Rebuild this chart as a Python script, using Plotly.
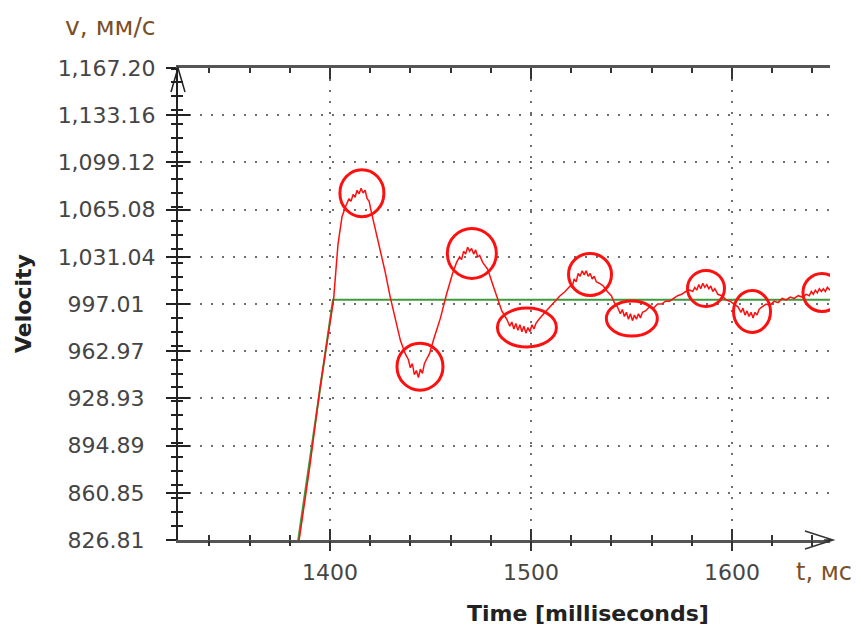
import plotly.graph_objects as go

# ---------------- data ----------------
red_t = [1384.5, 1390, 1395, 1401.8, 1404, 1406, 1408, 1409.5, 1410.5, 1411.5, 1412.5, 1413.5,
         1414.5, 1415.5, 1416.5, 1417.5, 1418.5, 1419.5, 1420.5, 1422.5, 1425, 1427.5, 1430,
         1432.5, 1435, 1437.5, 1439, 1440, 1441, 1442, 1443, 1444, 1445, 1446, 1447, 1448,
         1449.5, 1451.5, 1455, 1458, 1461, 1463, 1464.5, 1465.5, 1466.5, 1467.5, 1468.5,
         1469.5, 1470.5, 1471.5, 1472.5, 1473.5, 1474.5, 1476, 1478.5, 1481, 1483, 1485.5,
         1488, 1489.5, 1490.5, 1491.5, 1492.5, 1493.5, 1494.5, 1495.5, 1496.5, 1497.5, 1498.5,
         1499.5, 1500.5, 1501.5, 1502.5, 1504, 1507, 1509.5, 1512, 1514.5, 1517, 1519.5,
         1520.5, 1521.5, 1522.5, 1523.5, 1524.5, 1525.5, 1526.5, 1527.5, 1528.5, 1529.5,
         1530.5, 1531.5, 1532.5, 1534, 1536, 1538, 1540, 1541.5, 1543, 1544.5, 1545.5, 1546.5,
         1547.5, 1548.5, 1549.5, 1550.5, 1551.5, 1552.5, 1553.5, 1554.5, 1555.5, 1557, 1559,
         1561, 1563, 1565, 1567, 1569, 1571, 1573, 1575, 1577, 1579, 1580.5, 1581.5, 1582.5,
         1583.5, 1584.5, 1585.5, 1586.5, 1587.5, 1588.5, 1589.5, 1590.5, 1591.5, 1593, 1595,
         1597, 1599, 1601, 1603, 1604.5, 1605.5, 1606.5, 1607.5, 1608.5, 1609.5, 1610.5,
         1611.5, 1612.5, 1613.5, 1615, 1617, 1619, 1621, 1623, 1625, 1627, 1629, 1631, 1633,
         1635, 1637, 1638.5, 1639.5, 1640.5, 1641.5, 1642.5, 1643.5, 1644.5, 1645.5, 1646.5,
         1647.5, 1648.8]
red_v = [825, 880, 936, 1000, 1040, 1060, 1068, 1073, 1071, 1076, 1074, 1079,
         1076.5, 1080.5, 1077, 1079, 1073, 1071, 1064, 1052, 1037, 1020, 1002,
         987, 971, 961, 957, 951, 954, 946, 949, 944, 950, 947, 954, 957,
         961, 971, 987, 1004, 1019, 1027, 1031, 1029, 1035, 1033, 1038,
         1035, 1037, 1033, 1036, 1031, 1032, 1027, 1022, 1011, 1002, 992,
         986, 981, 984, 979, 983, 978, 982, 977, 981, 976, 980,
         977, 982, 979, 983, 986, 991, 995, 999, 1003, 1006, 1010,
         1009, 1015, 1013, 1019, 1017, 1021, 1018, 1021, 1017, 1019,
         1015, 1017, 1013, 1012, 1010, 1006, 1003, 998, 995, 990, 993, 988,
         991, 986, 990, 985, 989, 986, 990, 987, 991, 992, 995,
         994, 997, 997, 999, 999, 1001, 1003, 1004, 1006, 1007, 1006, 1009, 1007,
         1011, 1008, 1012, 1009, 1011, 1008, 1010, 1006, 1008, 1004, 1003,
         1000, 999, 997, 995, 991, 994, 989, 992, 988, 991, 987,
         991, 989, 993, 995, 997, 996, 999, 998, 1001, 1000, 1002, 1001, 1003,
         1002, 1004, 1003, 1006, 1004, 1007, 1005, 1008, 1006, 1008, 1006,
         1009, 1007]

green_t = [1384.0, 1401.5, 1648.8]
green_v = [824.8, 1000.0, 1000.0]

# highlighted oscillation extrema (circled in red)
mark_t = [1415.9, 1444.8, 1470.6, 1498.0, 1529.4, 1550.2, 1587.1, 1610.0, 1644.8]
mark_v = [1076.9, 951.8, 1033.5, 980.0, 1018.3, 986.5, 1008.2, 991.6, 1005.3]

y_ticks = [826.81, 860.85, 894.89, 928.93, 962.97, 997.01, 1031.04, 1065.08, 1099.12, 1133.16, 1167.20]
x_ticks = [1400, 1500, 1600]
x_range = [1324.4, 1648.8]

# ---------------- styles ----------------
mark_w = [44, 46, 49, 59, 43, 51, 37, 37, 38]
mark_h = [47, 47, 50, 39, 42, 35, 36, 42, 38]

W, H = 856, 628
L, R, T, B = 178, 26, 68, 88
PW, PH = W - L - R, H - T - B
FONT = "DejaVu Sans"


def px(xp):
    return (xp - L) / PW


def py(yp):
    return (H - B - yp) / PH


def ylab(v):
    s = f"{v:,.2f}"
    return s if "," in s else s + "\u2002"


fig = go.Figure()
fig.add_trace(go.Scatter(x=green_t, y=green_v, mode="lines",
                         line=dict(color="#3c9c3c", width=2), hoverinfo="skip"))
fig.add_trace(go.Scatter(x=red_t, y=red_v, mode="lines",
                         line=dict(color="#ff1010", width=1.5), hoverinfo="skip"))
# carriers for the overlay axes (crossing ticks)
fig.add_trace(go.Scatter(x=[], y=[], xaxis="x2", yaxis="y", showlegend=False))
fig.add_trace(go.Scatter(x=[], y=[], xaxis="x", yaxis="y2", showlegend=False))

grid = dict(showgrid=True, gridcolor="#6e6e6e", gridwidth=2, griddash="2px,9px")
tickfont = dict(family=FONT, size=22, color="#454545")

fig.update_layout(
    width=W, height=H, margin=dict(l=L, r=R, t=T, b=B),
    plot_bgcolor="white", paper_bgcolor="white", showlegend=False,
    xaxis=dict(range=x_range, tickmode="array", tickvals=x_ticks,
               ticktext=[str(v) for v in x_ticks],
               ticks="inside", ticklen=11, tickwidth=2, tickcolor="#333",
               showline=True, linecolor="#555", linewidth=2.5, mirror="ticks",
               zeroline=False, tickfont=tickfont, ticklabelstandoff=11,
               minor=dict(tick0=1300, dtick=20, ticks="inside", ticklen=5,
                          tickwidth=2, tickcolor="#333", showgrid=False),
               **grid),
    xaxis2=dict(range=x_range, overlaying="x", anchor="y", side="bottom",
                tickmode="array", tickvals=x_ticks, ticks="outside", ticklen=10,
                tickwidth=2, tickcolor="#333", showticklabels=False,
                showgrid=False, showline=False, zeroline=False,
                minor=dict(tick0=1300, dtick=20, ticks="outside", ticklen=5,
                           tickwidth=2, tickcolor="#333", showgrid=False)),
    yaxis=dict(range=[y_ticks[0], y_ticks[-1]], tickmode="array", tickvals=y_ticks,
               ticktext=[ylab(v) for v in y_ticks],
               ticks="outside", ticklen=10, tickwidth=2, tickcolor="#222",
               showline=True, linecolor="#222", linewidth=2, mirror=False,
               zeroline=False, tickfont=tickfont, ticklabelstandoff=6,
               minor=dict(tick0=y_ticks[0], dtick=10, ticks="outside", ticklen=5,
                          tickwidth=2, tickcolor="#222", showgrid=False),
               **grid),
    yaxis2=dict(range=[y_ticks[0], y_ticks[-1]], overlaying="y", anchor="x", side="left",
                tickmode="array", tickvals=y_ticks, ticks="inside", ticklen=12,
                tickwidth=2, tickcolor="#222", showticklabels=False,
                showgrid=False, showline=False, zeroline=False,
                minor=dict(tick0=y_ticks[0], dtick=10, ticks="inside", ticklen=5,
                           tickwidth=2, tickcolor="#222", showgrid=False)),
)

shapes = []
for t, v, w, h in zip(mark_t, mark_v, mark_w, mark_h):
    shapes.append(dict(type="circle", xref="x", yref="y",
                       xsizemode="pixel", ysizemode="pixel",
                       xanchor=t, yanchor=v, x0=-w / 2, x1=w / 2, y0=-h / 2, y1=h / 2,
                       line=dict(color="#ff1010", width=3)))
# axis arrowheads
shapes.append(dict(type="path", xref="paper", yref="paper",
                   xsizemode="pixel", ysizemode="pixel", xanchor=0, yanchor=1,
                   path="M -7,-24 L 0,0 L 7,-24", line=dict(color="#222", width=1.5)))
shapes.append(dict(type="path", xref="paper", yref="paper",
                   xsizemode="pixel", ysizemode="pixel", xanchor=1, yanchor=0,
                   path="M -25,9 L 3,0 L -25,-9 M -6,0 L 3,0", line=dict(color="#333", width=1.5)))
fig.update_layout(shapes=shapes)

unit_col = "#7a5028"
fig.add_annotation(text="<b>Velocity</b>", xref="paper", yref="paper",
                   x=px(23), y=0.5, textangle=-90, showarrow=False,
                   xanchor="center", yanchor="middle",
                   font=dict(family=FONT, size=22, color="#222"))
fig.add_annotation(text="<b>Time [milliseconds]</b>", xref="paper", yref="paper",
                   x=px(588), y=py(613), showarrow=False,
                   xanchor="center", yanchor="middle",
                   font=dict(family=FONT, size=22, color="#222"))
fig.add_annotation(text="v, мм/с", xref="paper", yref="paper",
                   x=px(110), y=py(26), showarrow=False,
                   xanchor="center", yanchor="middle",
                   font=dict(family=FONT, size=25, color=unit_col))
fig.add_annotation(text="t, мс", xref="paper", yref="paper",
                   x=px(824), y=py(572), showarrow=False,
                   xanchor="center", yanchor="middle",
                   font=dict(family=FONT, size=24, color=unit_col))

fig.write_html("out.html")
